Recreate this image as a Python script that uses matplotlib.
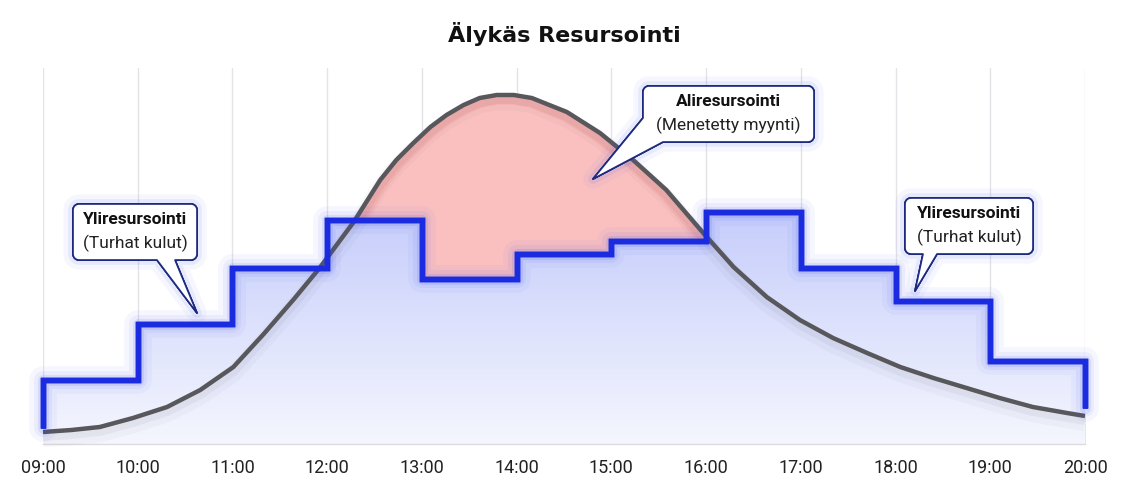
import numpy as np
import matplotlib
matplotlib.use("Agg")
import matplotlib.pyplot as plt
import matplotlib.patheffects as pe
from matplotlib.path import Path
from matplotlib.patches import PathPatch
from matplotlib.transforms import Affine2D

# hours on the x axis
hours = list(range(9, 21))
hour_labels = ["09:00", "10:00", "11:00", "12:00", "13:00", "14:00",
               "15:00", "16:00", "17:00", "18:00", "19:00", "20:00"]

# staffing per hour (step line), plus where it starts / ends
staff = [64, 120, 176, 224, 165, 190, 203, 232, 176, 143, 83]
staff_start = 16
staff_end = 36

# customer demand curve
demand_x = [9.0, 9.3, 9.6, 9.95, 10.31, 10.66, 11.01, 11.33, 11.65, 11.92, 12.28,
            12.38, 12.56, 12.73, 12.91, 13.09, 13.26, 13.44, 13.61, 13.79,
            13.97, 14.16, 14.53, 14.88, 15.23, 15.58, 15.97, 16.29, 16.64,
            16.99, 17.34, 17.70, 18.05, 18.40, 18.75, 19.10, 19.45, 19.81, 20.0]
demand_y = [12, 14, 17, 26, 37, 54, 77, 110, 145, 176, 222,
            237, 264, 284, 301, 317, 329, 339, 346, 349,
            349, 346, 332, 311, 284, 254, 211, 177, 147,
            124, 106, 91, 77, 66, 56, 46, 37, 31, 28]

BLUE = "#1a2be0"
GLOW = "#3045f0"
NAVY = "#1c2a80"
GREY = "#58585c"
RED = "#fac0c0"

fig = plt.figure(figsize=(11.34, 4.99), dpi=100)
ax = fig.add_axes([43 / 1134, 55 / 499, 1042 / 1134, 376 / 499])
ax.set_xlim(9, 20)
ax.set_ylim(0, 376)

# red area: under the demand curve (the blue fill covers what is below staffing)
red = ax.fill_between(demand_x, 0, demand_y, color=RED, lw=0, zorder=1)
glow, = ax.plot(demand_x, demand_y, color="#f27a7a", lw=14, alpha=0.16, zorder=1.1,
                solid_joinstyle="round")
glow.set_clip_path(red.get_paths()[0], ax.transData)

# blue gradient area under the staffing steps
edge_y = staff + [staff[-1]]
blue = ax.fill_between(hours, 0, edge_y, step="post", lw=0)
blue.set_visible(False)
top_c = np.array([0.77, 0.80, 0.985])
bot_c = np.array([0.96, 0.965, 0.995])
t = np.linspace(0, 1, 256)[:, None]
grad = bot_c * (1 - t) + top_c * t
grad = grad[:, None, :]
im = ax.imshow(grad, extent=[9, 20, 0, 240], origin="lower", aspect="auto",
               interpolation="bicubic", zorder=2)
im.set_clip_path(blue.get_paths()[0], ax.transData)

# demand curve with soft shadow
ax.plot(demand_x, demand_y, color=GREY, lw=3.2, zorder=3, clip_on=False,
        solid_capstyle="butt", solid_joinstyle="round",
        path_effects=[pe.SimpleLineShadow(offset=(0, -5), shadow_color="k",
                                          alpha=0.025, linewidth=12),
                      pe.SimpleLineShadow(offset=(0, -3), shadow_color="k",
                                          alpha=0.04, linewidth=7),
                      pe.Normal()])

# staffing step line with glow
sx = [9] + hours + [20]
sy = [staff_start] + staff + [staff[-1], staff_end]
soft = dict(foreground=GLOW, joinstyle="round", capstyle="round")
ax.plot(sx, sy, drawstyle="steps-post", color=BLUE, lw=3.8, zorder=4,
        clip_on=False, solid_joinstyle="miter", solid_capstyle="butt",
        path_effects=[pe.withStroke(linewidth=20, alpha=0.04, **soft),
                      pe.withStroke(linewidth=13, alpha=0.06, **soft),
                      pe.withStroke(linewidth=8, alpha=0.10, **soft),
                      pe.Normal()])

ax.set_xticks(hours)
ax.set_xticklabels(hour_labels, fontfamily="Roboto", fontsize=13, color="#222222")
ax.set_yticks([])
ax.tick_params(axis="x", length=0, pad=11)
ax.grid(axis="x", color="#e4e4e8", lw=1, zorder=0)
ax.set_axisbelow(True)
for s in ["left", "right", "top"]:
    ax.spines[s].set_visible(False)
ax.spines["bottom"].set_color("#dcdce0")
ax.spines["bottom"].set_linewidth(1)

fig.text(564 / 1134, 1 - 34 / 499, "Älykäs Resursointi", ha="center", va="center",
         fontfamily="DejaVu Sans", fontweight="bold", fontsize=16, color="#111111")

# callouts drawn in picture pixel coordinates
T = Affine2D().scale(1 / 1134, -1 / 499).translate(0, 1) + fig.transFigure


def arc(cx, cy, r, a0, a1):
    a = np.radians(np.linspace(a0, a1, 10))
    return list(zip(cx + r * np.cos(a), cy + r * np.sin(a)))


def callout(x0, y0, x1, y1, tail, skip_bl, line1, line2):
    r = 6
    pts = []
    pts += arc(x0 + r, y0 + r, r, 180, 270)
    pts += arc(x1 - r, y0 + r, r, 270, 360)
    pts += arc(x1 - r, y1 - r, r, 0, 90)
    pts += tail
    if not skip_bl:
        pts += arc(x0 + r, y1 - r, r, 90, 180)
    pts.append(pts[0])
    codes = [Path.MOVETO] + [Path.LINETO] * (len(pts) - 2) + [Path.CLOSEPOLY]
    patch = PathPatch(Path(pts, codes), facecolor="white", edgecolor=NAVY, lw=1.2,
                      joinstyle="round", transform=T, zorder=6,
                      path_effects=[pe.withStroke(linewidth=14, alpha=0.04, **soft),
                                    pe.withStroke(linewidth=7, alpha=0.08, **soft),
                                    pe.Normal()])
    fig.add_artist(patch)
    cx = (x0 + x1) / 2
    fig.text(cx / 1134, 1 - (y0 + 15) / 499, line1, ha="center", va="center",
             fontfamily="Roboto", fontweight="bold", fontsize=12.5, color="#111111",
             zorder=7)
    fig.text(cx / 1134, 1 - (y0 + 39) / 499, line2, ha="center", va="center",
             fontfamily="Roboto", fontsize=12.5, color="#222222", zorder=7)


callout(73, 204, 197, 260, [(175, 260), (197, 313), (157, 260)], False,
        "Yliresursointi", "(Turhat kulut)")
callout(643, 86, 814, 142, [(663, 142), (593, 179), (643, 118)], True,
        "Aliresursointi", "(Menetetty myynti)")
callout(905, 198, 1033, 254, [(937, 254), (915, 291), (923, 254)], False,
        "Yliresursointi", "(Turhat kulut)")

fig.savefig("out.png", dpi=100)
